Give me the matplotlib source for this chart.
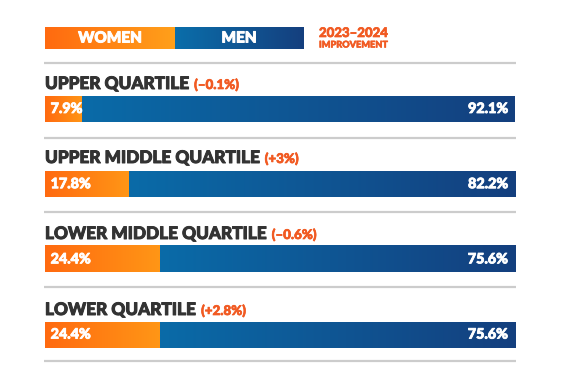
import numpy as np
import matplotlib
matplotlib.use("Agg")
import matplotlib.pyplot as plt
import matplotlib.patheffects as pe
from matplotlib.colors import LinearSegmentedColormap

# data
quartiles = ["UPPER QUARTILE", "UPPER MIDDLE QUARTILE",
             "LOWER MIDDLE QUARTILE", "LOWER QUARTILE"]
women = [7.9, 17.8, 24.4, 24.4]
men = [92.1, 82.2, 75.6, 75.6]
improvement = ["(\u20130.1%)", "(+3%)", "(\u20130.6%)", "(+2.8%)"]

W, H = 567, 389
ORANGE = ("#FF6A10", "#FF9616")
BLUE = ("#0A6BA8", "#143F7E")
DARK = "#333333"
ACCENT = "#F15A22"
FONT = "Lato"

fig = plt.figure(figsize=(W / 100, H / 100), dpi=100)

# overlay axes in pixel coordinates for text, rules and key
ax0 = fig.add_axes([0, 0, 1, 1])
ax0.set_xlim(0, W)
ax0.set_ylim(H, 0)
ax0.axis("off")


def heavy(color, lw=0.7):
    return [pe.withStroke(linewidth=lw, foreground=color)]


def gradient(ax, x0, x1, y0, y1, colors, z=2):
    cmap = LinearSegmentedColormap.from_list("g", list(colors))
    ax.imshow(np.linspace(0, 1, 256)[None, :], cmap=cmap,
              extent=(x0, x1, y1, y0), aspect="auto", zorder=z,
              interpolation="bilinear")


# key
gradient(ax0, 45, 175, 27, 49, ("#FF6A10", "#FFA01A"))
gradient(ax0, 175, 304, 27, 49, ("#0A6EAA", "#153F7E"))
ax0.text(110, 38.5, "WOMEN", color="white", fontsize=11, fontweight="black",
         family=FONT, ha="center", va="center", zorder=5,
         path_effects=heavy("white"))
ax0.text(239, 38.5, "MEN", color="white", fontsize=11, fontweight="black",
         family=FONT, ha="center", va="center", zorder=5,
         path_effects=heavy("white"))
ax0.text(319, 33, "2023\u20132024", color=ACCENT, fontsize=9.5,
         fontweight="black", family=FONT, ha="left", va="center",
         path_effects=heavy(ACCENT, 0.5))
ax0.text(319, 45, "IMPROVEMENT", color=ACCENT, fontsize=6.6,
         fontweight="black", family=FONT, ha="left", va="center",
         path_effects=heavy(ACCENT, 0.4))

# horizontal rules
for yy in [63, 138, 212, 287, 361]:
    ax0.plot([44, 516], [yy, yy], color="#CCCCCC", lw=1.6,
             solid_capstyle="butt")

# row titles with improvement
label_y = [83, 157, 233, 309]
fig.canvas.draw()
renderer = fig.canvas.get_renderer()
for name, imp, ly in zip(quartiles, improvement, label_y):
    t = ax0.text(45, ly + 6, name, color=DARK, fontsize=12.4,
                 fontweight="black", family=FONT, ha="left", va="baseline",
                 path_effects=heavy(DARK))
    bb = t.get_window_extent(renderer)
    xr = ax0.transData.inverted().transform((bb.x1, bb.y0))[0]
    ax0.text(xr + 5, ly + 6, imp, color=ACCENT, fontsize=9.6,
             fontweight="black", family=FONT, ha="left", va="baseline",
             path_effects=heavy(ACCENT, 0.5))

# bars
row_top = 109 - 37.6
row_h = 75.2
ax = fig.add_axes([45 / W, 1 - (row_top + 4 * row_h) / H,
                   470 / W, 4 * row_h / H])
ax.patch.set_alpha(0)
ax.axis("off")
ypos = np.arange(len(quartiles))
bh = 26 / row_h
wb = ax.barh(ypos, women, height=bh, color=ORANGE[0])
mb = ax.barh(ypos, men, left=women, height=bh, color=BLUE[0])
for p in list(wb) + list(mb):
    c = ORANGE if p in wb.patches else BLUE
    gradient(ax, p.get_x(), p.get_x() + p.get_width(),
             p.get_y(), p.get_y() + p.get_height(), c)
    p.set_visible(False)

for i, (w, m) in enumerate(zip(women, men)):
    ax.text(1.2, i, f"{w}%", color="white", fontsize=10.3, fontweight="black",
            family=FONT, ha="left", va="center", zorder=5,
            path_effects=heavy("white", 0.6))
    ax.text(w + m - 1.5, i, f"{m}%", color="white", fontsize=10.3,
            fontweight="black", family=FONT, ha="right", va="center",
            zorder=5, path_effects=heavy("white", 0.6))

ax.set_xlim(0, 100)
ax.set_ylim(len(quartiles) - 0.5, -0.5)

fig.savefig("out.png", dpi=100)
